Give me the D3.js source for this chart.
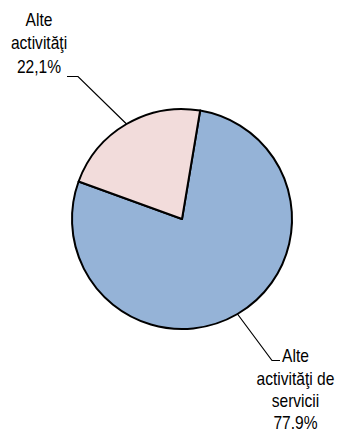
<!DOCTYPE html>
<html>
<head>
<meta charset="utf-8">
<script src="https://cdn.jsdelivr.net/npm/d3@7"></script>
<style>
  html, body { margin: 0; padding: 0; background: #fff; }
  svg { display: block; }
  text { font-family: Arial, "Liberation Sans", sans-serif; font-size: 17.5px; fill: #000; }
</style>
</head>
<body>
<script>
// Share of activities (%)
const categories = ["Alte activităţi de servicii", "Alte activităţi"];
const values = [77.9, 22.1];
const valueLabels = ["77.9%", "22,1%"];
const labelLines = [["Alte", "activităţi de", "servicii"], ["Alte", "activităţi"]];
const colors = ["#95b3d7", "#f2dcdb"];

const W = 339, H = 433;
const cx = 182, cy = 219, R = 110;

const svg = d3.select("body").append("svg").attr("width", W).attr("height", H);

const pie = d3.pie().sort(null).value(d => d)
  .startAngle(9.5 * Math.PI / 180)
  .endAngle(9.5 * Math.PI / 180 + 2 * Math.PI);
const arcs = pie(values);
const arc = d3.arc().innerRadius(0).outerRadius(R);

const g = svg.append("g").attr("transform", `translate(${cx},${cy})`);
g.selectAll("path").data(arcs).join("path")
  .attr("d", arc)
  .attr("fill", (d, i) => colors[i])
  .attr("stroke", "#000")
  .attr("stroke-width", 2)
  .attr("stroke-linejoin", "round");

// Label placement: leader elbow, leader end, text centre x, first baseline, line gap
const labelPos = [
  { elbow: [272, 360.5], end: [280, 360.5], tx: 295.5, ty: 362.5, gap: 22.2 },
  { elbow: [78, 76.5], end: [67, 76.5], tx: 39, ty: 26, gap: 23.5 }
];

arcs.forEach((a, i) => {
  const mid = (a.startAngle + a.endAngle) / 2;
  const px = cx + R * Math.sin(mid), py = cy - R * Math.cos(mid);
  const p = labelPos[i];
  svg.append("polyline")
    .attr("points", [[px, py], p.elbow, p.end].map(q => q.join(",")).join(" "))
    .attr("fill", "none").attr("stroke", "#000").attr("stroke-width", 1.2);
  const lines = labelLines[i].concat([valueLabels[i]]);
  // narrow type: compress horizontally around the label centre
  const t = svg.append("text")
    .attr("text-anchor", "middle")
    .attr("transform", `translate(${p.tx},0) scale(0.89,1)`);
  lines.forEach((s, k) => {
    t.append("tspan").attr("x", 0).attr("y", p.ty + k * p.gap).text(s);
  });
});
</script>
</body>
</html>
